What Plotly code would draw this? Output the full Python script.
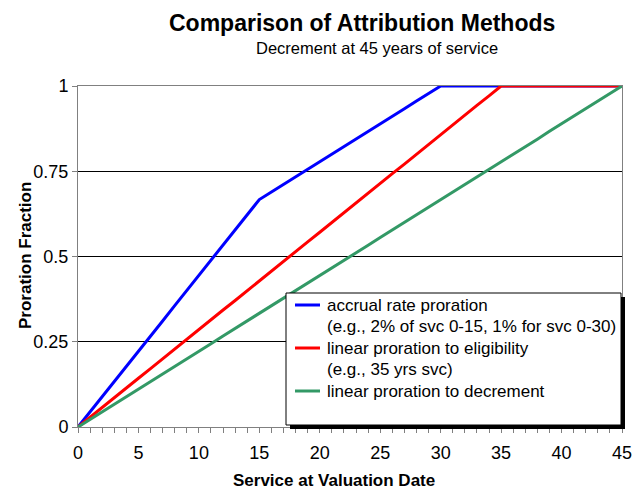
import plotly.graph_objects as go

service = list(range(0, 46))
accrual = [0, 0.044, 0.089, 0.133, 0.178, 0.222, 0.267, 0.311, 0.356, 0.4, 0.444, 0.489, 0.533, 0.578, 0.622, 0.667,
           0.689, 0.711, 0.733, 0.756, 0.778, 0.8, 0.822, 0.844, 0.867, 0.889, 0.911, 0.933, 0.956, 0.978, 1.0,
           1, 1, 1, 1, 1, 1, 1, 1, 1, 1, 1, 1, 1, 1, 1]
eligibility = [0, 0.029, 0.057, 0.086, 0.114, 0.143, 0.171, 0.2, 0.229, 0.257, 0.286, 0.314, 0.343, 0.371, 0.4, 0.429,
               0.457, 0.486, 0.514, 0.543, 0.571, 0.6, 0.629, 0.657, 0.686, 0.714, 0.743, 0.771, 0.8, 0.829, 0.857,
               0.886, 0.914, 0.943, 0.971, 1.0, 1, 1, 1, 1, 1, 1, 1, 1, 1, 1]
decrement = [0, 0.022, 0.044, 0.067, 0.089, 0.111, 0.133, 0.156, 0.178, 0.2, 0.222, 0.244, 0.267, 0.289, 0.311, 0.333,
             0.356, 0.378, 0.4, 0.422, 0.444, 0.467, 0.489, 0.511, 0.533, 0.556, 0.578, 0.6, 0.622, 0.644, 0.667,
             0.689, 0.711, 0.733, 0.756, 0.778, 0.8, 0.822, 0.844, 0.867, 0.889, 0.911, 0.933, 0.956, 0.978, 1.0]
names = ["accrual rate proration", "linear proration to eligibility", "linear proration to decrement"]
notes = ["(e.g., 2% of svc 0-15, 1% for svc 0-30)", "(e.g., 35 yrs svc)", None]
colors = ["#0000FF", "#FF0000", "#339966"]
y_ticks = [0, 0.25, 0.5, 0.75, 1]
y_labels = ["0", "0.25", "0.5", "0.75", "1"]

fig = go.Figure()
for ys, nm, c in zip([accrual, eligibility, decrement], names, colors):
    fig.add_trace(go.Scatter(x=service, y=ys, mode="lines", name=nm, showlegend=False,
                             line=dict(color=c, width=3), cliponaxis=False))

L, R, T, B = 78, 20, 86, 63
W, H = 642, 490
pw, ph = W - L - R, H - T - B

def px(x):
    return (x - L) / pw

def py(y):
    return (H - B - y) / ph

shapes = [
    dict(type="rect", xref="paper", yref="paper", x0=px(290), x1=px(625), y0=py(429), y1=py(297),
         fillcolor="black", line=dict(width=0), layer="above"),
    dict(type="rect", xref="paper", yref="paper", x0=px(286), x1=px(621), y0=py(425), y1=py(293),
         fillcolor="white", line=dict(color="black", width=1), layer="above"),
]

annotations = [
    dict(text="<b>Comparison of Attribution Methods</b>", xref="paper", yref="paper",
         x=px(362), y=py(23), xanchor="center", yanchor="middle", showarrow=False, font=dict(size=23)),
    dict(text="Decrement at 45 years of service", xref="paper", yref="paper",
         x=px(377), y=py(48), xanchor="center", yanchor="middle", showarrow=False, font=dict(size=16.5)),
    dict(text="<b>Service at Valuation Date</b>", xref="paper", yref="paper",
         x=px(334), y=py(480), xanchor="center", yanchor="middle", showarrow=False, font=dict(size=17)),
    dict(text="<b>Proration Fraction</b>", xref="paper", yref="paper", textangle=-90,
         x=px(25), y=py(256), xanchor="center", yanchor="middle", showarrow=False, font=dict(size=17)),
]

# legend drawn inside a shadowed box
row_y = 305
for nm, note, c in zip(names, notes, colors):
    shapes.append(dict(type="line", xref="paper", yref="paper", x0=px(295), x1=px(320),
                       y0=py(row_y), y1=py(row_y), line=dict(color=c, width=3), layer="above"))
    annotations.append(dict(text=nm, xref="paper", yref="paper", x=px(325), y=py(row_y),
                            xanchor="left", yanchor="middle", showarrow=False, font=dict(size=17)))
    row_y += 21.5
    if note:
        annotations.append(dict(text=note, xref="paper", yref="paper", x=px(325), y=py(row_y),
                                xanchor="left", yanchor="middle", showarrow=False, font=dict(size=17)))
        row_y += 21.5

fig.update_layout(
    width=W, height=H,
    margin=dict(l=L, r=R, t=T, b=B, autoexpand=False),
    paper_bgcolor="white", plot_bgcolor="white",
    font=dict(family="Liberation Sans, Arial, sans-serif", color="black"),
    annotations=annotations,
    shapes=shapes,
    showlegend=False,
    xaxis=dict(range=[0, 45], dtick=5, tick0=0, ticks="outside", ticklen=5, tickcolor="#808080",
               showline=True, mirror=True, linecolor="#808080", linewidth=1, showgrid=False, zeroline=False,
               tickfont=dict(size=18), automargin=False, ticklabelstandoff=4,
               minor=dict(dtick=1, ticks="outside", ticklen=5, tickcolor="#808080", showgrid=False)),
    yaxis=dict(range=[0, 1], tickvals=y_ticks, ticktext=y_labels,
               ticks="outside", ticklen=5, tickcolor="#808080",
               showline=True, mirror=True, linecolor="#808080", linewidth=1, showgrid=True, gridcolor="black",
               gridwidth=1, zeroline=False, tickfont=dict(size=18), automargin=False),
)

fig.write_html("out.html", config={"displayModeBar": False},
               post_script="document.body.style.margin='0px';document.body.style.overflow='hidden';")
